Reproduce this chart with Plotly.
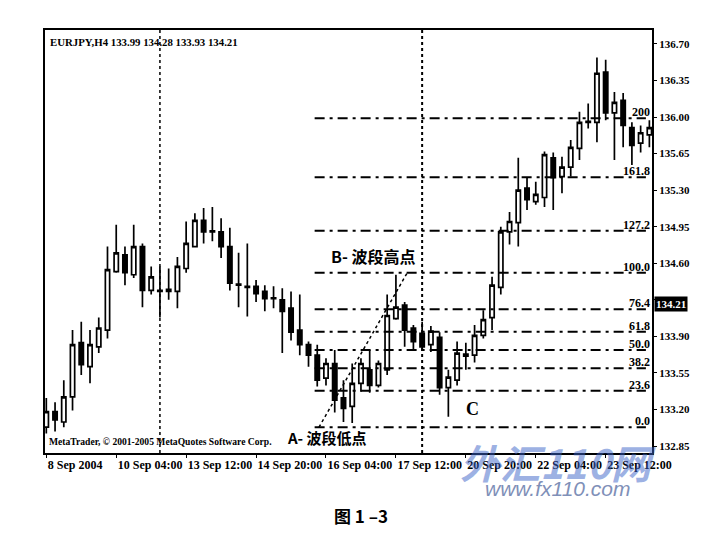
import plotly.graph_objects as go

# ---------------- data ----------------
bar_index = list(range(70))
opens = [133.03, 133.18, 133.08, 133.32, 133.84, 133.61, 133.80, 133.96, 134.52, 134.68,
         134.49, 134.76, 134.34, 134.34, 134.33, 134.33, 134.55, 134.76, 135.01, 134.91,
         134.90, 134.76, 134.40, 134.38, 134.38, 134.33, 134.27, 134.25, 134.17, 133.96,
         133.82, 133.72, 133.50, 133.64, 133.31, 133.23, 133.45, 133.58, 133.43, 133.58,
         134.07, 134.20, 133.98, 133.93, 133.82, 133.89, 133.41, 133.48, 133.71, 133.72,
         133.91, 134.08, 134.37, 134.90, 134.99, 135.32, 135.19, 135.23, 135.61, 135.43,
         135.52, 135.70, 135.95, 135.95, 136.43, 136.04, 136.16, 135.90, 135.75, 135.83]
highs = [133.31, 133.27, 133.48, 133.96, 134.04, 133.96, 134.08, 134.76, 134.97, 134.76,
         134.97, 134.79, 134.57, 134.57, 134.55, 134.66, 135.00, 135.08, 135.13, 135.14,
         135.03, 134.94, 134.70, 134.79, 134.44, 134.39, 134.38, 134.36, 134.33, 134.30,
         133.85, 133.82, 133.69, 133.77, 133.48, 133.64, 133.69, 133.77, 133.67, 134.30,
         134.49, 134.23, 134.01, 134.04, 134.00, 133.94, 133.58, 133.85, 133.84, 134.01,
         134.15, 134.47, 134.95, 135.09, 135.61, 135.42, 135.38, 135.67, 135.66, 135.62,
         135.78, 136.05, 136.13, 136.57, 136.55, 136.24, 136.23, 135.95, 135.92, 135.97]
lows = [132.97, 132.99, 133.03, 133.19, 133.53, 133.45, 133.74, 133.88, 134.51, 134.39,
        134.46, 134.18, 134.30, 134.08, 134.25, 134.17, 134.51, 134.75, 134.79, 134.81,
        134.65, 134.34, 134.18, 134.09, 134.23, 134.14, 134.17, 133.74, 133.86, 133.72,
        133.61, 133.42, 133.43, 133.17, 133.08, 133.07, 133.37, 133.36, 133.41, 133.53,
        134.06, 133.80, 133.77, 133.76, 133.75, 133.34, 133.13, 133.43, 133.58, 133.65,
        133.88, 133.96, 134.30, 134.78, 134.76, 135.11, 135.16, 135.14, 135.11, 135.27,
        135.43, 135.59, 135.89, 135.76, 135.97, 135.59, 135.71, 135.54, 135.66, 135.71]
closes = [133.18, 133.10, 133.32, 133.82, 133.63, 133.82, 133.98, 134.54, 134.70, 134.51,
          134.76, 134.34, 134.47, 134.33, 134.35, 134.57, 134.79, 135.01, 134.90, 134.90,
          134.76, 134.41, 134.39, 134.37, 134.31, 134.26, 134.26, 134.14, 133.94, 133.82,
          133.72, 133.48, 133.64, 133.29, 133.21, 133.45, 133.64, 133.43, 133.64, 134.10,
          134.18, 133.96, 133.85, 133.80, 133.95, 133.41, 133.51, 133.74, 133.73, 133.91,
          134.06, 134.39, 134.90, 135.00, 135.30, 135.21, 135.26, 135.64, 135.42, 135.52,
          135.71, 135.95, 135.96, 136.42, 136.04, 136.14, 135.92, 135.73, 135.85, 135.90]

x_tick_bars = [0, 8, 16, 24, 32, 40, 48, 56, 64]
x_tick_labels = ["8 Sep 2004", "10 Sep 04:00", "13 Sep 12:00", "14 Sep 20:00", "16 Sep 04:00",
                 "17 Sep 12:00", "20 Sep 20:00", "22 Sep 04:00", "23 Sep 12:00"]
y_tick_vals = [132.85, 133.20, 133.55, 133.90, 134.25, 134.60, 134.95, 135.30, 135.65, 136.00, 136.35, 136.70]
y_tick_labels = ["132.85", "133.20", "133.55", "133.90", "", "134.60", "134.95", "135.30",
                 "135.65", "136.00", "136.35", "136.70"]

fib_ratios = [0.0, 23.6, 38.2, 50.0, 61.8, 76.4, 100.0, 127.2, 161.8, 200]
fib_labels = ["0.0", "23.6", "38.2", "50.0", "61.8", "76.4", "100.0", "127.2", "161.8", "200"]
fib_low, fib_high = 133.03, 134.51          # A (swing low) and B (swing high)
fib_x_start, fib_x_end = 30.7, 68.6
trend_x = [31.2, 41.3]
separator_bars = [13, 43]
last_price = 134.21

SERIF = "Liberation Serif"

fig = go.Figure()

# Fibonacci levels
for r, lab in zip(fib_ratios, fib_labels):
    lvl = fib_low + (fib_high - fib_low) * r / 100.0
    fig.add_trace(go.Scatter(x=[fib_x_start, fib_x_end], y=[lvl, lvl], mode="lines",
                             line=dict(color="black", width=2, dash="10px,5px,3px,5px"),
                             hoverinfo="skip", showlegend=False))
    fig.add_annotation(x=69.25, y=lvl, text=lab, showarrow=False, xanchor="right", yanchor="bottom",
                       yshift=-3, font=dict(family=SERIF, size=12, color="black", weight="bold"))

# trend line A -> B
fig.add_trace(go.Scatter(x=trend_x, y=[fib_low, fib_high], mode="lines",
                         line=dict(color="black", width=1.5, dash="dot"),
                         hoverinfo="skip", showlegend=False))

# candles
fig.add_trace(go.Candlestick(
    x=bar_index, open=opens, high=highs, low=lows, close=closes,
    increasing=dict(line=dict(color="black", width=1.7), fillcolor="white"),
    decreasing=dict(line=dict(color="black", width=1.7), fillcolor="black"),
    whiskerwidth=0, showlegend=False))

# period separators
for i, b in enumerate(separator_bars):
    fig.add_shape(type="line", x0=b, x1=b, y0=0, y1=1, yref="paper",
                  line=dict(color="black", width=1.5 if i == 0 else 2, dash="dot"), layer="below")

# texts
fig.add_annotation(xref="paper", yref="paper", x=0.005, y=0.972, xanchor="left", yanchor="middle",
                   text="EURJPY,H4 133.99 134.28 133.93 134.21", showarrow=False,
                   font=dict(family=SERIF, size=10.8, color="black", weight="bold"))
fig.add_annotation(xref="paper", yref="paper", x=0.004, y=0.027, xanchor="left", yanchor="middle",
                   text="MetaTrader, © 2001-2005 MetaQuotes Software Corp.", showarrow=False,
                   font=dict(family=SERIF, size=9.6, color="black", weight="bold"))
fig.add_annotation(x=27.3, y=132.93, xanchor="left", yanchor="middle", text="A- 波段低点", showarrow=False,
                   font=dict(family="Noto Sans CJK SC", size=15, color="black", weight="bold"))
fig.add_annotation(x=32.3, y=134.67, xanchor="left", yanchor="middle", text="B- 波段高点", showarrow=False,
                   font=dict(family="Noto Sans CJK SC", size=16, color="black", weight="bold"))
fig.add_annotation(x=48.8, y=133.20, xanchor="center", yanchor="middle", text="C", showarrow=False,
                   font=dict(family=SERIF, size=18, color="black", weight="bold"))

# current price box on axis
fig.add_annotation(xref="paper", x=1, y=last_price, xanchor="left", yanchor="middle", xshift=2,
                   text="%.2f" % last_price, showarrow=False, bgcolor="black", borderpad=1,
                   font=dict(family=SERIF, size=11, color="white", weight="bold"))

# watermark + caption
fig.add_annotation(xref="paper", yref="paper", x=0.845, y=-0.022, xanchor="center", yanchor="middle",
                   text="<i>外汇110网</i>", showarrow=False,
                   font=dict(family="Noto Sans CJK SC", size=40, color="rgba(60,100,200,0.5)", weight="bold"))
fig.add_annotation(xref="paper", yref="paper", x=0.845, y=-0.085, xanchor="center", yanchor="middle",
                   text="<i>www.fx110.com</i>", showarrow=False,
                   font=dict(family="Liberation Sans", size=21, color="#7f90b8"))
fig.add_annotation(xref="paper", yref="paper", x=0.52, y=-0.148, xanchor="center", yanchor="middle",
                   text="图 1 –3", showarrow=False,
                   font=dict(family="Noto Sans CJK SC", size=17, color="black", weight="bold"))

# page body has an 8px default margin, so the figure is sized/offset to compensate
fig.update_layout(
    width=705, height=540,
    margin=dict(l=37, r=61, t=22, b=95, autoexpand=False),
    paper_bgcolor="white", plot_bgcolor="white",
    font=dict(family=SERIF, size=11, color="black"),
    xaxis=dict(range=[-0.15, 69.3], rangeslider=dict(visible=False), showgrid=False, zeroline=False,
               tickmode="array", tickvals=x_tick_bars, ticktext=x_tick_labels, tickangle=0,
               automargin=False,
               ticks="outside", ticklen=3, tickcolor="black", ticklabelposition="outside right",
               tickfont=dict(family=SERIF, size=12, color="black", weight="bold"),
               showline=True, linecolor="black", linewidth=2, mirror=True),
    yaxis=dict(range=[132.783, 136.834], side="right", showgrid=False, zeroline=False,
               tickmode="array", tickvals=y_tick_vals, ticktext=y_tick_labels, automargin=False,
               ticks="outside", ticklen=3, tickcolor="black",
               tickfont=dict(family=SERIF, size=11, color="black", weight="bold"),
               showline=True, linecolor="black", linewidth=2, mirror=True),
)

fig.write_html("out.html")
